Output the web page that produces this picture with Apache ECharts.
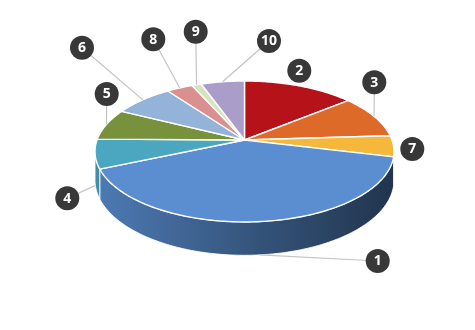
<!DOCTYPE html>
<html>
<head>
<meta charset="utf-8">
<script src="https://cdn.jsdelivr.net/npm/echarts@6/dist/echarts.min.js"></script>
<style>
  html, body { margin: 0; padding: 0; background: #ffffff; }
  #chart { width: 475px; height: 330px; }
</style>
</head>
<body>
<div id="chart"></div>
<script>
// Slices, clockwise from 12 o'clock
const sliceNames  = ['2', '3', '7', '1', '4', '5', '6', '8', '9', '10'];
const sliceValues = [14.1, 9.9, 4.8, 39.7, 6.7, 7.2, 7.6, 3.3, 1.2, 5.5];

// Styling
const sliceColors = ['#b51219', '#de6a2a', '#f6b83a', '#5a8ed1', '#4ba6c0',
                     '#77913d', '#93b3d8', '#d9908f', '#d8e3bd', '#ab9dca'];
const badgeSpots = {
  '1': [377.7, 261], '2': [299.3, 70.7], '3': [374.3, 82.3], '4': [67.3, 198.3],
  '5': [106.7, 94], '6': [82, 47.7], '7': [412.3, 149], '8': [153.3, 39.3],
  '9': [195.7, 31.7], '10': [269, 41]
};
const badgeRadius = 12;
// how far down the side wall a leader line ends (0 = top rim, 1 = bottom rim)
const anchorDrop = { '1': 1, '4': 1.1 };

// Tilted disc with a little perspective
const disc = { cx: 244.5, cy: 140, rx: 147.5, ry: 68.6, persp: 0.163, depth: 27.9 };

function project(theta, drop) {
  const u = Math.sin(theta);
  const v = -Math.cos(theta);
  const d = 1 - disc.persp * v;
  return [disc.cx + disc.rx * u / d, disc.cy + (disc.ry * v + disc.depth * drop) / d];
}

const total = sliceValues.reduce((s, v) => s + v, 0);
const startAngles = [];
(function () {
  let acc = 0;
  sliceValues.forEach(v => { startAngles.push(acc / total * Math.PI * 2); acc += v; });
})();

// front wall is visible between the two silhouette points
const wallFrom = Math.acos(-disc.persp);
const wallTo = Math.PI * 2 - wallFrom;

function shade(hex, f) {
  const n = parseInt(hex.slice(1), 16);
  const r = Math.round(((n >> 16) & 255) * f);
  const g = Math.round(((n >> 8) & 255) * f);
  const b = Math.round((n & 255) * f);
  return 'rgb(' + r + ',' + g + ',' + b + ')';
}

function arcPoints(a0, a1, drop) {
  const pts = [];
  const steps = Math.max(2, Math.ceil((a1 - a0) / (Math.PI / 180)));
  for (let i = 0; i <= steps; i++) {
    pts.push(project(a0 + (a1 - a0) * i / steps, drop));
  }
  return pts;
}

function renderSlice(params, api) {
  const i = api.value(1);
  const a0 = startAngles[i];
  const a1 = a0 + api.value(0) / total * Math.PI * 2;
  const color = sliceColors[i];
  const children = [];

  const w0 = Math.max(a0, wallFrom);
  const w1 = Math.min(a1, wallTo);
  if (w1 > w0) {
    const top = arcPoints(w0, w1, 0);
    const bottom = arcPoints(w0, w1, 1).reverse();
    children.push({
      type: 'polygon',
      shape: { points: top.concat(bottom) },
      style: {
        fill: new echarts.graphic.LinearGradient(disc.cx - disc.rx, 0, disc.cx + disc.rx, 0, [
          { offset: 0, color: shade(color, 0.86) },
          { offset: 0.35, color: shade(color, 0.68) },
          { offset: 1, color: shade(color, 0.37) }
        ], true),
        stroke: 'rgba(255,255,255,0.85)',
        lineWidth: 1
      }
    });
  }

  children.push({
    type: 'polygon',
    shape: { points: [[disc.cx, disc.cy]].concat(arcPoints(a0, a1, 0)) },
    style: { fill: color, stroke: '#ffffff', lineWidth: 1.4, lineJoin: 'round' }
  });
  return { type: 'group', children: children };
}

function renderBadge(params, api) {
  const i = api.value(1);
  const name = sliceNames[i];
  const mid = startAngles[i] + api.value(0) / total * Math.PI;
  const anchor = project(mid, anchorDrop[name] || 0);
  const spot = badgeSpots[name];
  const children = [];
  const gap = Math.hypot(anchor[0] - spot[0], anchor[1] - spot[1]) - badgeRadius;
  // badges sitting right at the rim need no leader line
  if (gap > 8) {
    children.push({
      type: 'line',
      shape: { x1: anchor[0], y1: anchor[1], x2: spot[0], y2: spot[1] },
      style: { stroke: '#c4c4c4', lineWidth: 1.2 }
    });
  }
  children.push(
    {
      type: 'circle',
      shape: { cx: spot[0], cy: spot[1], r: badgeRadius },
      style: { fill: '#383838' }
    },
    {
      type: 'text',
      x: spot[0], y: spot[1] + 0.5,
      style: {
        text: name, fill: '#ffffff', align: 'center', verticalAlign: 'middle',
        font: 'bold 14px "Open Sans", "DejaVu Sans", sans-serif'
      }
    }
  );
  return { type: 'group', children: children };
}

const seriesData = sliceValues.map((v, i) => [v, i]);

const chart = echarts.init(document.getElementById('chart'), null, { renderer: 'canvas' });
chart.setOption({
  backgroundColor: '#ffffff',
  animation: false,
  series: [
    { type: 'custom', coordinateSystem: 'none', renderItem: renderSlice, data: seriesData, z: 1, silent: true },
    { type: 'custom', coordinateSystem: 'none', renderItem: renderBadge, data: seriesData, z: 2, silent: true }
  ]
});
</script>
</body>
</html>
